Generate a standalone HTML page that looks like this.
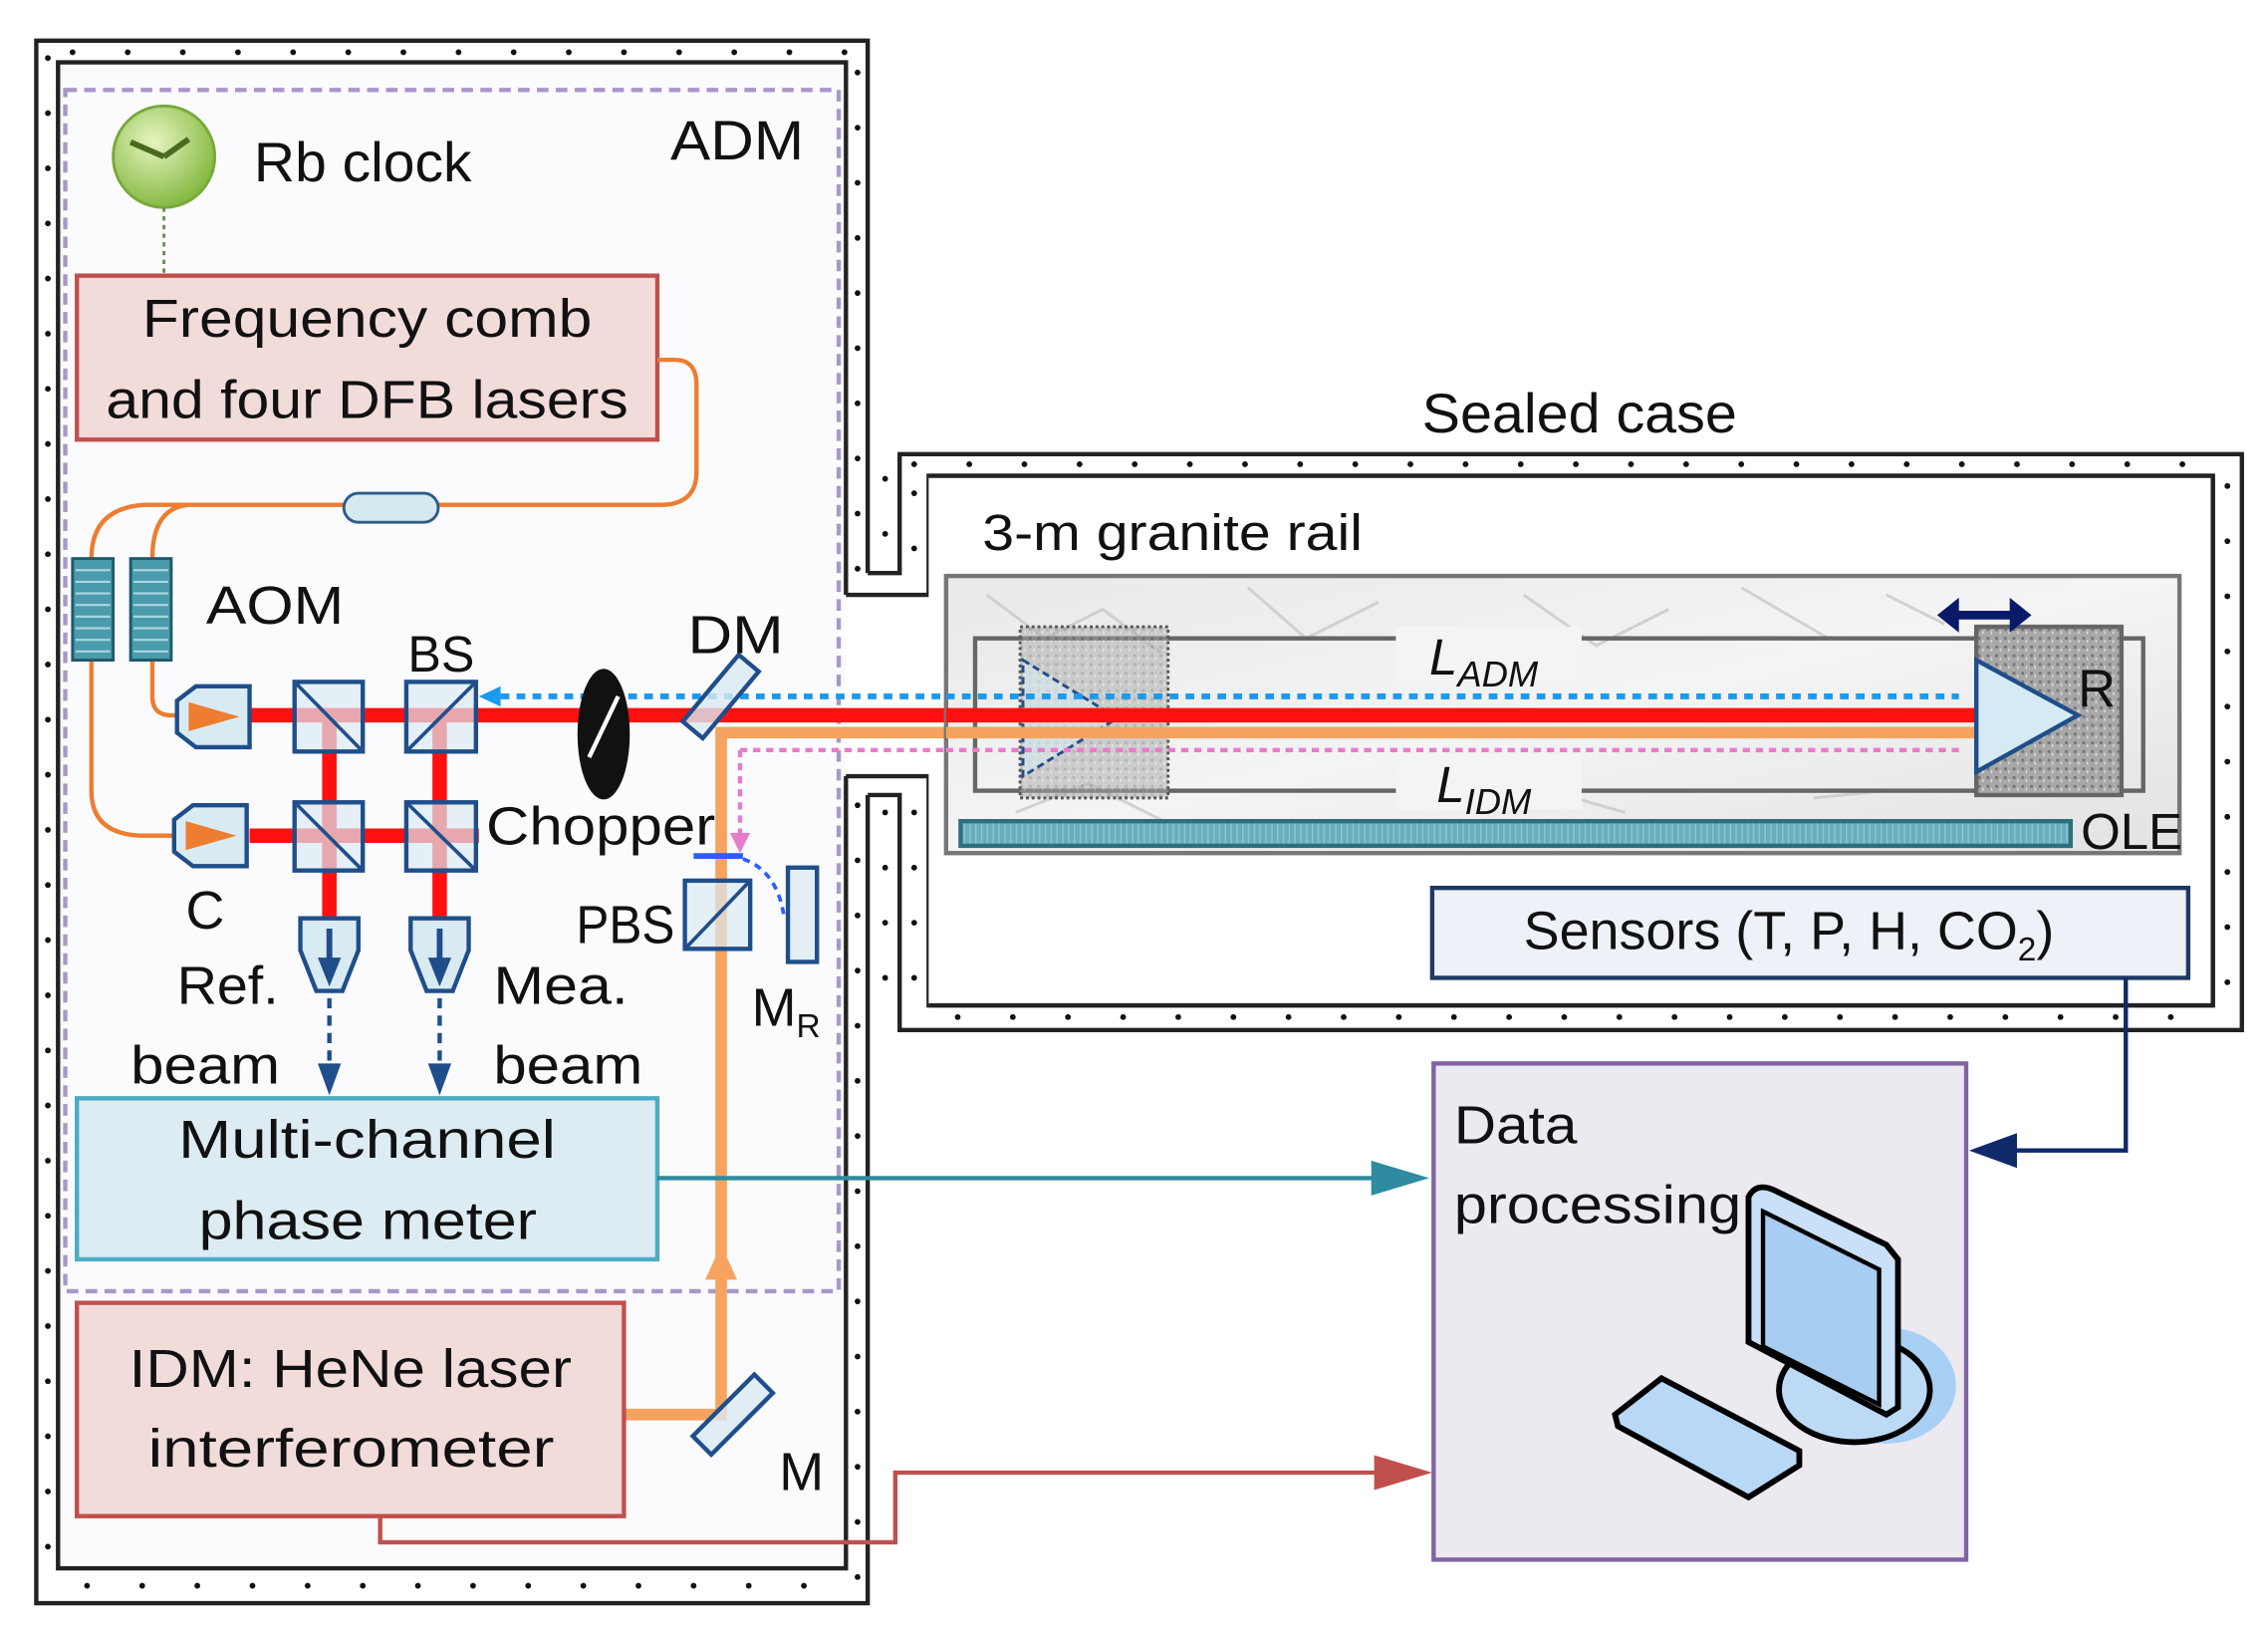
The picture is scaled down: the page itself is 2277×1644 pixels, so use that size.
<!DOCTYPE html>
<html><head><meta charset="utf-8"><style>
html,body{margin:0;padding:0;background:#fff}
svg{display:block}
text{font-family:"Liberation Sans",sans-serif;fill:#111}
</style></head><body>
<svg width="2277" height="1644" viewBox="0 0 1563 1129" preserveAspectRatio="none" xmlns="http://www.w3.org/2000/svg">
<defs>
<radialGradient id="gr" cx="0.4" cy="0.35" r="0.7"><stop offset="0" stop-color="#e6f5c0"/><stop offset="1" stop-color="#7fb53a"/></radialGradient>
<linearGradient id="gran" x1="0" y1="0" x2="1" y2="1"><stop offset="0" stop-color="#e9e9e9"/><stop offset="0.5" stop-color="#f4f4f4"/><stop offset="1" stop-color="#e2e2e2"/></linearGradient>
<pattern id="spk" width="6" height="6" patternUnits="userSpaceOnUse"><rect width="6" height="6" fill="#a8a8a8"/><rect x="1" y="1" width="2" height="2" fill="#777"/><rect x="4" y="3" width="1" height="2" fill="#ddd"/></pattern>
<pattern id="ole" width="4" height="10" patternUnits="userSpaceOnUse"><rect width="4" height="10" fill="#6aaebd"/><rect width="1" height="10" fill="#8cc4d0"/></pattern>
</defs>
<rect width="1563" height="1129" fill="#fff"/>
<rect x="40" y="43" width="543" height="1038" fill="#fbfbfd"/>
<path d="M583,410 V43 H40 V1081 H583 V535" fill="none" stroke="#222" stroke-width="3"/>
<path d="M598,395 V28 H25 V1105 H598 V548" fill="none" stroke="#222" stroke-width="3"/>
<path d="M583,410 H640 V328 H1525 V693 H640 V535 H583" fill="none" stroke="#222" stroke-width="3"/>
<path d="M598,395 H620 V313 H1545 V710 H620 V548 H598" fill="none" stroke="#222" stroke-width="3"/>
<rect x="640" y="328" width="885" height="365" fill="#fff"/>
<path d="M640,328 H1525 V693 H640" fill="none" stroke="#222" stroke-width="3"/>
<g stroke="#111" stroke-width="4" stroke-linecap="round" stroke-dasharray="0 38" fill="none">
<path d="M33,40 V1095"/><path d="M50,36 H590"/><path d="M60,1093 H590"/>
<path d="M591,50 V395"/><path d="M591,555 V1090"/>
<path d="M610,330 V395"/><path d="M610,560 V700"/>
<path d="M630,320 H1535"/><path d="M1535,335 V700"/><path d="M660,701 H1530"/>
<path d="M630,340 V395"/><path d="M630,560 V690"/>
</g>
<rect x="45" y="62" width="533" height="828" fill="none" stroke="#a898c8" stroke-width="3" stroke-dasharray="8 5"/>
<circle cx="113" cy="108" r="35" fill="url(#gr)" stroke="#7aa83a" stroke-width="2"/>
<path d="M113,108 L90,98 M113,108 L130,96" stroke="#4a6a20" stroke-width="4" fill="none"/>
<line x1="113" y1="143" x2="113" y2="190" stroke="#6b8e4e" stroke-width="2" stroke-dasharray="3 3"/>
<text x="175" y="125" font-size="38" textLength="150" lengthAdjust="spacingAndGlyphs">Rb clock</text>
<text x="462" y="110" font-size="38" textLength="92" lengthAdjust="spacingAndGlyphs">ADM</text>
<rect x="53" y="190" width="400" height="113" fill="#f2dcda" stroke="#c0504d" stroke-width="3"/>
<text x="98" y="232" font-size="37" textLength="310" lengthAdjust="spacingAndGlyphs">Frequency comb</text>
<text x="73" y="288" font-size="37" textLength="360" lengthAdjust="spacingAndGlyphs">and four DFB lasers</text>
<g fill="none" stroke="#ed7d31" stroke-width="3">
<path d="M453,248 H465 Q480,248 480,265 V325 Q480,348 455,348 H100 Q63,350 63,385"/>
<path d="M130,348 Q105,350 105,385"/>
<path d="M63,455 V545 Q63,576 100,576 H125"/>
<path d="M105,455 V480 Q105,493 118,493 H125"/>
</g>
<rect x="237" y="340" width="65" height="20" rx="10" fill="#d5eaf0" stroke="#2e5c8a" stroke-width="2"/>
<g fill="#4a9bab" stroke="#1f5a6a" stroke-width="2">
<rect x="50" y="385" width="28" height="70"/><rect x="90" y="385" width="28" height="70"/>
</g>
<g stroke="#a9d5de" stroke-width="1.5"><path d="M52,393H76M52,401H76M52,409H76M52,417H76M52,425H76M52,433H76M52,441H76M52,449H76M92,393H116M92,401H116M92,409H116M92,417H116M92,425H116M92,433H116M92,441H116M92,449H116"/></g>
<text x="142" y="430" font-size="37" textLength="95" lengthAdjust="spacingAndGlyphs">AOM</text>
<g stroke="#ff1010" stroke-width="10" fill="none">
<path d="M172,493 H1362"/><path d="M172,576 H330"/><path d="M227,493 V640"/><path d="M303,493 V640"/>
</g>
<path d="M430,975 H497 V505 H1362" fill="none" stroke="#f5a35e" stroke-width="8"/>
<path d="M486,882 L497,858 L508,882z" fill="#f5a35e"/>
<path d="M345,480 H1350" stroke="#1a9af0" stroke-width="4" stroke-dasharray="6 5"/>
<path d="M330,480 L345,473 L345,487z" fill="#1a9af0"/>
<path d="M1362,480 L1347,472 L1347,488z" fill="#1a9af0"/>
<path d="M510,517 H1350 M510,517 V575" stroke="#e87ccc" stroke-width="3" stroke-dasharray="5 4" fill="none"/>
<path d="M1362,517 L1348,510 L1348,524z" fill="#e87ccc"/>
<path d="M510,588 L503,574 L517,574z" fill="#e87ccc"/>
<g fill="#d9ebf2" stroke="#1f4e8a" stroke-width="3">
<path d="M135,473 H172 V515 H135 L122,505 V483z"/><path d="M133,555 H170 V597 H133 L120,587 V565z"/>
</g>
<path d="M130,484 L165,494 L130,504z M128,566 L163,576 L128,586z" fill="#ed7d31"/>
<text x="128" y="640" font-size="37">C</text>
<g fill="#dbeaf2" fill-opacity="0.7" stroke="#1f4e8a" stroke-width="3">
<rect x="203" y="470" width="47" height="48"/><rect x="280" y="470" width="48" height="48"/>
<rect x="203" y="553" width="47" height="47"/><rect x="280" y="553" width="48" height="47"/>
<rect x="472" y="607" width="45" height="47"/>
</g>
<g stroke="#1f4e8a" stroke-width="2.5">
<line x1="203" y1="470" x2="250" y2="518"/><line x1="280" y1="518" x2="328" y2="470"/>
<line x1="203" y1="553" x2="250" y2="600"/><line x1="280" y1="553" x2="328" y2="600"/>
<line x1="472" y1="654" x2="517" y2="607"/>
</g>
<text x="281" y="463" font-size="35" textLength="46" lengthAdjust="spacingAndGlyphs">BS</text>
<ellipse cx="416" cy="506" rx="18" ry="45" fill="#111"/>
<path d="M406,522 L426,480" stroke="#fff" stroke-width="3"/>
<text x="335" y="582" font-size="37" textLength="158" lengthAdjust="spacingAndGlyphs">Chopper</text>
<rect x="476" y="477" width="60" height="18" fill="#dbeaf2" fill-opacity="0.8" stroke="#1f4e8a" stroke-width="3" transform="rotate(-50 495 493)"/>
<text x="474" y="450" font-size="37" textLength="66" lengthAdjust="spacingAndGlyphs">DM</text>
<line x1="478" y1="590" x2="512" y2="590" stroke="#2a5cff" stroke-width="4"/>
<path d="M512,592 Q535,600 540,630" stroke="#2a5cff" stroke-width="2.5" stroke-dasharray="5 4" fill="none"/>
<rect x="543" y="598" width="20" height="65" fill="#e4eff5" stroke="#1f4e8a" stroke-width="3"/>
<text x="397" y="650" font-size="37" textLength="68" lengthAdjust="spacingAndGlyphs">PBS</text>
<text x="518" y="707" font-size="37">M<tspan font-size="23" dy="8">R</tspan></text>
<g fill="#d9ebf2" stroke="#1f4e8a" stroke-width="3">
<path d="M207,633 H247 V655 L236,683 H218 L207,655z"/><path d="M283,633 H323 V655 L312,683 H294 L283,655z"/>
</g>
<path d="M227,640 V665 M303,640 V665" stroke="#1f4e8a" stroke-width="4"/>
<path d="M219,660 L227,680 L235,660z M295,660 L303,680 L311,660z" fill="#1f4e8a"/>
<path d="M227,688 V738 M303,688 V738" stroke="#1f4e8a" stroke-width="3" stroke-dasharray="7 5"/>
<path d="M219,733 L227,755 L235,733z M295,733 L303,755 L311,733z" fill="#1f4e8a"/>
<text x="122" y="692" font-size="37" textLength="70" lengthAdjust="spacingAndGlyphs">Ref.</text>
<text x="90" y="747" font-size="37" textLength="103" lengthAdjust="spacingAndGlyphs">beam</text>
<text x="340" y="692" font-size="37" textLength="93" lengthAdjust="spacingAndGlyphs">Mea.</text>
<text x="340" y="747" font-size="37" textLength="103" lengthAdjust="spacingAndGlyphs">beam</text>
<rect x="53" y="757" width="400" height="111" fill="#dcecf2" stroke="#4bacc6" stroke-width="3"/>
<text x="123" y="798" font-size="37" textLength="260" lengthAdjust="spacingAndGlyphs">Multi-channel</text>
<text x="137" y="854" font-size="37" textLength="233" lengthAdjust="spacingAndGlyphs">phase meter</text>
<path d="M453,812 H965" stroke="#2e8ba0" stroke-width="3"/>
<path d="M985,812 L945,800 L945,824z" fill="#2e8ba0"/>
<rect x="53" y="898" width="377" height="147" fill="#f2dcda" stroke="#c0504d" stroke-width="3"/>
<text x="89" y="956" font-size="37" textLength="305" lengthAdjust="spacingAndGlyphs">IDM: HeNe laser</text>
<text x="102" y="1011" font-size="37" textLength="280" lengthAdjust="spacingAndGlyphs">interferometer</text>
<rect x="475" y="966" width="60" height="18" fill="#dbeaf2" fill-opacity="0.8" stroke="#1f4e8a" stroke-width="3" transform="rotate(-45 505 975)"/>
<text x="537" y="1027" font-size="37">M</text>
<path d="M262,1045 V1063 H617 V1015 H965" fill="none" stroke="#c0504d" stroke-width="3"/>
<path d="M987,1015 L947,1003 L947,1027z" fill="#c0504d"/>
<text x="980" y="298" font-size="38" textLength="217" lengthAdjust="spacingAndGlyphs">Sealed case</text>
<text x="677" y="379" font-size="35" textLength="262" lengthAdjust="spacingAndGlyphs">3-m granite rail</text>
<rect x="652" y="397" width="850" height="191" fill="url(#gran)" stroke="#777" stroke-width="3"/>
<g stroke="#c8c8c8" stroke-width="2" fill="none" opacity="0.8">
<path d="M680,410 L720,440 L760,420 L800,450 M860,405 L900,440 L950,415 M1050,410 L1100,445 L1150,420 M1200,405 L1260,440 M1300,410 L1340,430 M700,560 L750,540 L800,565 M1000,555 L1050,540 L1120,560 M1250,550 L1300,545"/>
</g>
<rect x="672" y="440" width="805" height="105" fill="none" stroke="#666" stroke-width="3"/>
<rect x="962" y="432" width="128" height="38" fill="#f4f4f4"/>
<rect x="962" y="520" width="128" height="38" fill="#f4f4f4"/>
<rect x="703" y="432" width="102" height="118" fill="url(#spk)" fill-opacity="0.5" stroke="#555" stroke-width="2" stroke-dasharray="2 2"/>
<path d="M705,455 L770,495 L705,535z" fill="#d9ebf2" fill-opacity="0.6" stroke="#1f4e8a" stroke-width="2" stroke-dasharray="5 3"/>
<path d="M652,493 H1362" stroke="#ff1010" stroke-width="10"/>
<path d="M652,505 H1362" stroke="#f5a35e" stroke-width="8"/>
<path d="M652,480 H1350" stroke="#1a9af0" stroke-width="4" stroke-dasharray="6 5"/>
<path d="M652,517 H1350" stroke="#e87ccc" stroke-width="3" stroke-dasharray="5 4"/>
<rect x="1362" y="432" width="100" height="116" fill="url(#spk)" stroke="#666" stroke-width="3"/>
<path d="M1362,455 L1432,493 L1362,532z" fill="#d5eaf3" stroke="#1f4e8a" stroke-width="3"/>
<text x="1432" y="487" font-size="36">R</text>
<path d="M1348,424 H1388" stroke="#0a1a6a" stroke-width="6"/>
<path d="M1335,424 L1350,412 L1350,436z M1400,424 L1385,412 L1385,436z" fill="#0a1a6a"/>
<text x="985" y="465" font-size="35" font-style="italic">L<tspan font-size="25" dy="8">ADM</tspan></text>
<text x="990" y="553" font-size="35" font-style="italic">L<tspan font-size="25" dy="8">IDM</tspan></text>
<rect x="662" y="566" width="765" height="17" fill="url(#ole)" stroke="#2e6f7e" stroke-width="3"/>
<text x="1434" y="585" font-size="35" textLength="70" lengthAdjust="spacingAndGlyphs">OLE</text>
<rect x="987" y="612" width="521" height="62" fill="#eef2f8" stroke="#1f3864" stroke-width="3"/>
<text x="1050" y="654" font-size="37">Sensors (T, P, H, CO<tspan font-size="23" dy="8">2</tspan><tspan dy="-8">)</tspan></text>
<path d="M1465,674 V793 H1378" fill="none" stroke="#0f2a6a" stroke-width="3"/>
<path d="M1357,793 L1390,781 L1390,805z" fill="#0f2a6a"/>
<rect x="988" y="733" width="367" height="342" fill="#ece9f1" stroke="#8064a2" stroke-width="3"/>
<text x="1002" y="788" font-size="37" textLength="85" lengthAdjust="spacingAndGlyphs">Data</text>
<text x="1002" y="843" font-size="37" textLength="198" lengthAdjust="spacingAndGlyphs">processing</text>
<ellipse cx="1300" cy="955" rx="48" ry="40" fill="#a8d0f5"/>
<ellipse cx="1278" cy="958" rx="52" ry="36" fill="#bcdaf5" stroke="#000" stroke-width="4"/>
<path d="M1205,825 Q1210,815 1222,820 L1300,858 L1308,868 V970 L1300,975 L1205,925z" fill="#c8e0f8" stroke="#000" stroke-width="4"/>
<path d="M1215,835 L1295,875 V968 L1215,928z" fill="#a8cdf2" stroke="#000" stroke-width="3"/>
<path d="M1113,975 L1145,950 L1240,1000 L1240,1010 L1205,1032 L1115,983z" fill="#b8d8f8" stroke="#000" stroke-width="4"/>
</svg>
</body></html>
